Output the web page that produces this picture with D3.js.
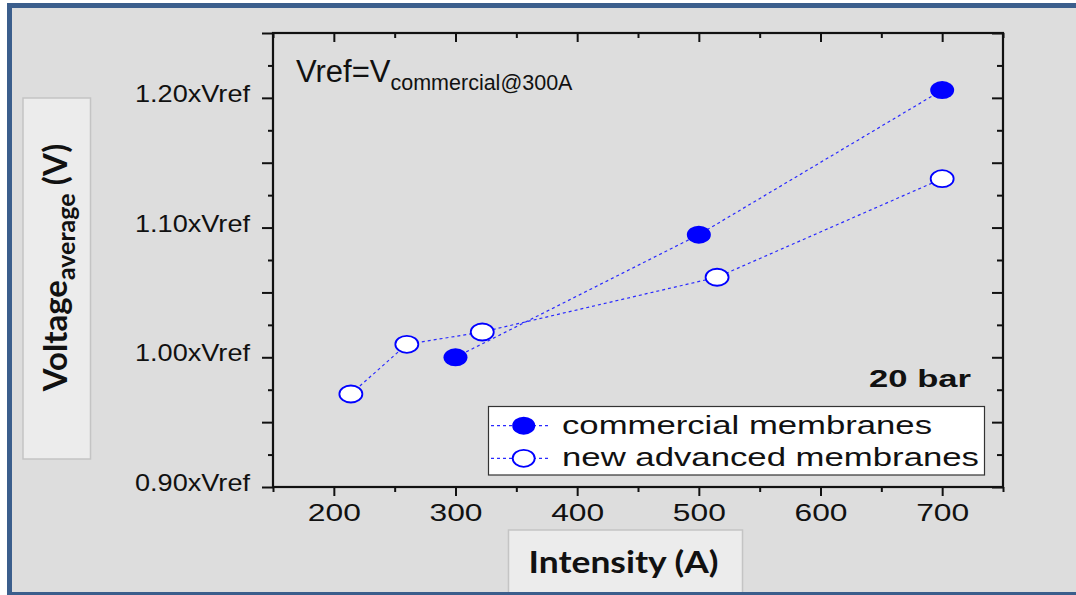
<!DOCTYPE html>
<html>
<head>
<meta charset="utf-8">
<script src="https://cdn.jsdelivr.net/npm/d3@7"></script>
<style>
  body { margin:0; background:#fff; }
  svg { display:block; }
</style>
</head>
<body>
<div class="main__area"></div>
<script>
// values
const intensityCommercial=[300, 500, 700];
const voltageCommercial=[1.000, 1.0945, 1.206];
const intensityNew=[214, 260, 322, 515, 700];
const voltageNew=[0.9717, 1.010, 1.0195, 1.0617, 1.1377];
const seriesNames=["commercial membranes", "new advanced membranes"];
const xTicks=[200, 300, 400, 500, 600, 700];
const yTicks=[0.90, 1.00, 1.10, 1.20];
const yTickLabels=["0.90xVref", "1.00xVref", "1.10xVref", "1.20xVref"];

const width=1076;
const height=595;
const plot={ left:273, right:1003, top:33, bottom:487 };
const arial='"Liberation Sans", Arial, sans-serif';
const calibri='Lato, "Open Sans", sans-serif';
const blue="#0000ff";

const svgTag=d3.select(".main__area").append("svg")
    .attr("width", width)
    .attr("height", height);

// background of the frame
svgTag.append("rect")
    .attr("x", 9.5).attr("y", 5.5)
    .attr("width", 1100).attr("height", 589)
    .attr("fill", "#dddddd");

const x=d3.scaleLinear().domain([150, 750]).range([plot.left, plot.right]);
const y=d3.scaleLinear().domain([0.90, 1.25]).range([plot.bottom, plot.top]);

// label boxes
svgTag.append("rect")
    .attr("x", 23).attr("y", 98).attr("width", 67.5).attr("height", 361)
    .attr("fill", "#ececec").attr("stroke", "#c4c4c4").attr("stroke-width", 1.5);
svgTag.append("rect")
    .attr("x", 508.5).attr("y", 530).attr("width", 234).attr("height", 80)
    .attr("fill", "#ececec").attr("stroke", "#c4c4c4").attr("stroke-width", 1.5);

// ticks without labels
function addTicks(axis, values, size, transform) {
    svgTag.append("g")
        .attr("transform", transform)
        .call(axis.tickValues(values).tickSize(size).tickSizeOuter(0).tickFormat(""))
        .call(g=>g.select(".domain").remove())
        .call(g=>g.selectAll(".tick line").attr("stroke", "#111").attr("stroke-width", 2));
}
const xMinor=d3.range(150, 751, 100);
const yMajor=d3.range(0.90, 1.2501, 0.05);
const yMinor=d3.range(0.925, 1.25, 0.05);

addTicks(d3.axisBottom(x), xTicks, 9, `translate(0,${plot.bottom})`);
addTicks(d3.axisBottom(x), xMinor, 5, `translate(0,${plot.bottom})`);
addTicks(d3.axisTop(x), xTicks, -9, `translate(0,${plot.top})`);
addTicks(d3.axisTop(x), xMinor, -5, `translate(0,${plot.top})`);
addTicks(d3.axisLeft(y), yMajor, 11, `translate(${plot.left},0)`);
addTicks(d3.axisLeft(y), yMinor, 5, `translate(${plot.left},0)`);
addTicks(d3.axisRight(y), yMajor, -11, `translate(${plot.right},0)`);
addTicks(d3.axisRight(y), yMinor, -6, `translate(${plot.right},0)`);

// tick labels
svgTag.append("g")
    .attr("transform", `translate(0,${plot.bottom})`)
    .call(d3.axisBottom(x).tickValues(xTicks).tickSize(0).tickPadding(18).tickFormat(d3.format("d")))
    .call(g=>g.select(".domain").remove())
    .call(g=>g.selectAll("text")
        .attr("font-family", arial).attr("font-size", 23).attr("fill", "#111")
        .attr("textLength", 53).attr("lengthAdjust", "spacingAndGlyphs"));

svgTag.append("g")
    .attr("transform", `translate(${plot.left},0)`)
    .call(d3.axisLeft(y).tickValues(yTicks).tickSize(0).tickPadding(23).tickFormat((d, i)=>yTickLabels[i]))
    .call(g=>g.select(".domain").remove())
    .call(g=>g.selectAll("text")
        .attr("dy", 3.5)
        .attr("font-family", arial).attr("font-size", 24).attr("fill", "#111")
        .attr("textLength", 115).attr("lengthAdjust", "spacingAndGlyphs"));

// plot frame
svgTag.append("rect")
    .attr("x", plot.left).attr("y", plot.top)
    .attr("width", plot.right-plot.left).attr("height", plot.bottom-plot.top)
    .attr("fill", "none").attr("stroke", "#111").attr("stroke-width", 2.2);

// series
const commercial=d3.zip(intensityCommercial, voltageCommercial);
const advanced=d3.zip(intensityNew, voltageNew);
const line=d3.line().x(d=>x(d[0])).y(d=>y(d[1]));

[commercial, advanced].forEach(points=>{
    svgTag.append("path")
        .datum(points)
        .attr("d", line)
        .attr("fill", "none")
        .attr("stroke", "#2a2aff")
        .attr("stroke-width", 1.2)
        .attr("stroke-dasharray", "3,3");
});

svgTag.append("g").selectAll("ellipse")
    .data(advanced)
    .join("ellipse")
    .attr("cx", d=>x(d[0])).attr("cy", d=>y(d[1]))
    .attr("rx", 11.5).attr("ry", 8.5)
    .attr("fill", "#fff").attr("stroke", blue).attr("stroke-width", 1.8);

svgTag.append("g").selectAll("ellipse")
    .data(commercial)
    .join("ellipse")
    .attr("cx", d=>x(d[0])).attr("cy", d=>y(d[1]))
    .attr("rx", 12).attr("ry", 9)
    .attr("fill", blue);

// Vref note
const note=svgTag.append("text")
    .attr("x", 296).attr("y", 82)
    .attr("font-family", arial).attr("font-size", 31).attr("fill", "#111");
note.append("tspan").text("Vref=V");
note.append("tspan").attr("dy", 8).attr("font-size", 21.5).text("commercial@300A");

svgTag.append("text")
    .attr("x", 971).attr("y", 387)
    .attr("text-anchor", "end")
    .attr("font-family", arial).attr("font-size", 23).attr("font-weight", "bold").attr("fill", "#111")
    .attr("textLength", 102).attr("lengthAdjust", "spacingAndGlyphs")
    .text("20 bar");

// legend
const legend=svgTag.append("g");
legend.append("rect")
    .attr("x", 488.5).attr("y", 406.5).attr("width", 496).attr("height", 68.5)
    .attr("fill", "#fff").attr("stroke", "#333").attr("stroke-width", 1.2);

const legendRows=[
    { name:seriesNames[0], y:425.7, filled:true, length:370 },
    { name:seriesNames[1], y:458.3, filled:false, length:417 }
];
legendRows.forEach(row=>{
    legend.append("line")
        .attr("x1", 491).attr("x2", 551)
        .attr("y1", row.y).attr("y2", row.y)
        .attr("stroke", "#2a2aff").attr("stroke-width", 1.2).attr("stroke-dasharray", "3,3");
    legend.append("ellipse")
        .attr("cx", 523.7).attr("cy", row.y)
        .attr("rx", row.filled ? 11.5 : 11).attr("ry", row.filled ? 9 : 8.5)
        .attr("fill", row.filled ? blue : "#fff")
        .attr("stroke", row.filled ? "none" : blue).attr("stroke-width", 1.8);
    legend.append("text")
        .attr("x", 562).attr("y", row.y+7.8)
        .attr("font-family", arial).attr("font-size", 26).attr("fill", "#111")
        .attr("textLength", row.length).attr("lengthAdjust", "spacingAndGlyphs")
        .text(row.name);
});

// axis titles
const yTitle=svgTag.append("text")
    .attr("transform", "translate(67,267.5) rotate(-90)")
    .attr("text-anchor", "middle")
    .attr("font-family", calibri).attr("font-weight", "bold").attr("font-size", 33).attr("fill", "#111");
yTitle.append("tspan").text("Voltage");
yTitle.append("tspan").attr("dy", 8).attr("font-size", 25).text("average");
yTitle.append("tspan").attr("dy", -8).text(" (V)");

svgTag.append("text")
    .attr("x", 623.5).attr("y", 573)
    .attr("text-anchor", "middle")
    .attr("font-family", calibri).attr("font-weight", "bold").attr("font-size", 31).attr("fill", "#111")
    .attr("textLength", 190).attr("lengthAdjust", "spacingAndGlyphs")
    .text("Intensity (A)");

// blue border on top
svgTag.append("rect")
    .attr("x", 9.5).attr("y", 5.5)
    .attr("width", 1100).attr("height", 589)
    .attr("fill", "none").attr("stroke", "#3b5e8c").attr("stroke-width", 5);
</script>
</body>
</html>
